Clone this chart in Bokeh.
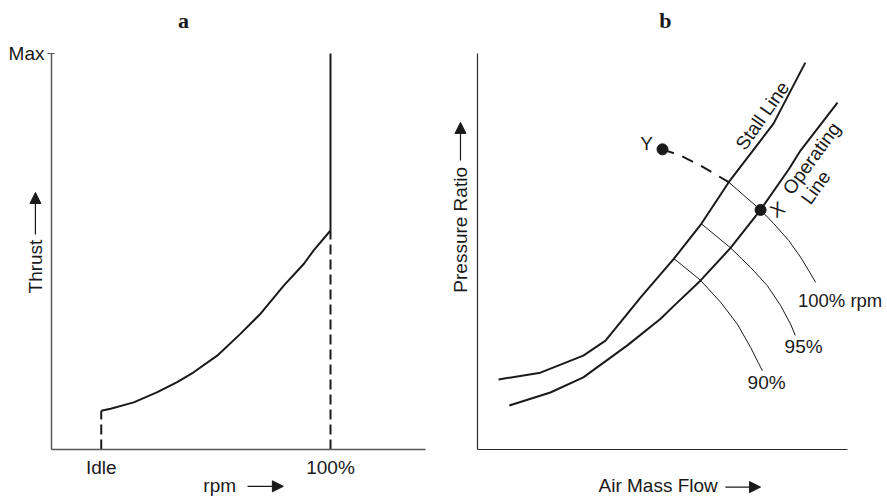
import math
from bokeh.plotting import figure
from bokeh.models import Range1d, FixedTicker, Label, Arrow, NormalHead
from bokeh.layouts import row
from bokeh.embed import file_html
from bokeh.resources import INLINE

FONT = "Liberation Sans"
FS = "19px"
INK = "#1a1a1a"

# ---------------- Panel a data (rpm vs thrust, arbitrary 0-100 units) ----------------
idle_rpm = 13.3
full_rpm = 74.6
thrust_max = 100
idle_thrust = 9.8
full_thrust = 55.3
rpm_curve = [13.3, 15.8, 22.0, 28.3, 33.6, 38.0, 44.3, 50.5, 55.9, 62.1, 67.5, 70.1, 74.6]
thrust_curve = [9.8, 10.3, 11.9, 14.5, 17.0, 19.5, 23.7, 29.2, 34.3, 41.4, 46.9, 50.3, 55.3]

# ---------------- Panel b data (air mass flow vs pressure ratio, 0-100 units) ----------------
stall_x = [5.7, 17.0, 28.6, 34.6, 44.1, 53.1, 60.5, 67.9, 80.0, 88.6]
stall_y = [17.7, 19.4, 23.7, 27.5, 38.4, 48.2, 57.0, 67.5, 82.3, 97.7]
oper_x = [8.6, 19.7, 28.6, 40.5, 49.5, 53.0, 60.3, 68.4, 76.5, 84.1, 87.3, 97.3]
oper_y = [11.1, 14.4, 18.2, 26.3, 33.0, 36.2, 42.7, 50.9, 60.5, 70.7, 75.5, 87.6]
rpm100_x = [67.9, 76.5, 80.1, 84.1, 87.3, 89.5, 91.4]
rpm100_y = [67.5, 60.5, 57.0, 52.8, 48.6, 45.2, 42.2]
rpm95_x = [60.5, 68.4, 73.8, 78.3, 81.9, 84.6, 85.9]
rpm95_y = [57.0, 50.9, 46.0, 41.4, 36.4, 31.7, 28.8]
rpm90_x = [53.1, 60.3, 65.7, 70.2, 73.8, 76.5, 77.0]
rpm90_y = [48.2, 42.7, 37.2, 31.7, 25.8, 20.8, 19.9]
surge_x = [50.0, 54.9, 60.3, 67.9]
surge_y = [75.8, 74.2, 71.7, 67.5]
point_x = [76.5, 50.0]
point_y = [60.5, 75.8]
point_names = ["X", "Y"]

# ---------------- layout geometry (pixels) ----------------
H = 497
A_W, B_W = 440, 447
A_LEFT, A_PX = 51, 3.74      # panel a: frame origin x and px per unit
B_LEFT, B_PX = 37, 3.70      # panel b (inside its own figure)
BOTTOM, Y_PX = 48, 3.96      # distance of the x axis from the bottom, px per unit


def make_fig(width, left, pxx):
    p = figure(width=width, height=H,
               x_range=Range1d(-left / pxx, (width - left) / pxx),
               y_range=Range1d(-BOTTOM / Y_PX, (H - BOTTOM) / Y_PX),
               output_backend="svg", toolbar_location=None,
               min_border=0, min_border_left=0, min_border_right=0,
               min_border_top=0, min_border_bottom=0)
    p.outline_line_color = None
    p.xgrid.visible = False
    p.ygrid.visible = False
    p.background_fill_color = "white"
    p.border_fill_color = "white"
    return p


def style_axes(p, color, width):
    for ax in (p.xaxis[0], p.yaxis[0]):
        ax.fixed_location = 0
        ax.bounds = (0, 100)
        ax.axis_line_color = color
        ax.axis_line_width = width
        ax.minor_tick_line_color = None
        ax.major_tick_in = 0
        ax.major_tick_out = 0
        ax.major_label_text_font = FONT
        ax.major_label_text_font_size = FS
        ax.major_label_text_color = INK


def lab(p, text, x, y, align="left", angle=0.0, size=FS, font=FONT, style="normal"):
    p.add_layout(Label(x=x, y=y, text=text,
                       text_align=align, text_baseline="middle", angle=angle,
                       text_font=font, text_font_size=size, text_font_style=style,
                       text_color=INK))


def arrow(p, x0, y0, x1, y1):
    p.add_layout(Arrow(end=NormalHead(size=11, fill_color=INK, line_color=INK, line_width=1),
                       x_start=x0, y_start=y0, x_end=x1, y_end=y1,
                       line_color=INK, line_width=1.2))


# ================= Panel a =================
pa = make_fig(A_W, A_LEFT, A_PX)
style_axes(pa, "#5a5a5a", 1.5)
pa.xaxis.ticker = FixedTicker(ticks=[idle_rpm, full_rpm])
pa.xaxis.major_label_overrides = {idle_rpm: "Idle", full_rpm: "100%"}
pa.xaxis.major_label_standoff = 7
pa.yaxis.ticker = FixedTicker(ticks=[thrust_max])
pa.yaxis.major_label_overrides = {thrust_max: "Max"}
pa.yaxis.major_tick_in = 3
pa.yaxis.major_tick_out = 4
pa.yaxis.major_tick_line_color = "#5a5a5a"
pa.yaxis.major_label_standoff = 3

pa.line(rpm_curve, thrust_curve, line_color=INK, line_width=2)
pa.line([full_rpm, full_rpm], [full_thrust, thrust_max], line_color=INK, line_width=2)
pa.line([full_rpm, full_rpm], [0, full_thrust], line_color=INK, line_width=2, line_dash="10 5")
pa.line([idle_rpm, idle_rpm], [0, idle_thrust], line_color=INK, line_width=2, line_dash="10 5")

lab(pa, "a", 35.3, 108.3, align="center", size="22px", font="Liberation Serif", style="bold")
lab(pa, "Thrust", -4.3, 39.4, align="left", angle=math.pi / 2)
arrow(pa, -4.3, 54.3, -4.3, 64.9)
lab(pa, "rpm", 40.6, -9.1)
arrow(pa, 52.4, -9.3, 62.0, -9.3)

# ================= Panel b =================
pb = make_fig(B_W, B_LEFT, B_PX)
style_axes(pb, "#2a2a2a", 1.2)
pb.xaxis.ticker = FixedTicker(ticks=[])
pb.yaxis.ticker = FixedTicker(ticks=[])

pb.line(stall_x, stall_y, line_color=INK, line_width=2)
pb.line(oper_x, oper_y, line_color=INK, line_width=2)
for xs, ys in ((rpm100_x, rpm100_y), (rpm95_x, rpm95_y), (rpm90_x, rpm90_y)):
    pb.line(xs, ys, line_color=INK, line_width=1)
pb.line(surge_x, surge_y, line_color=INK, line_width=2, line_dash="12 9")
pb.scatter(point_x, point_y, size=11, color=INK)

lab(pb, "b", 50.8, 108.3, align="center", size="22px", font="Liberation Serif", style="bold")
lab(pb, "Pressure Ratio", -4.6, 39.6, align="left", angle=math.pi / 2)
arrow(pb, -4.6, 73.0, -4.6, 82.6)
lab(pb, "Air Mass Flow", 32.7, -9.1)
arrow(pb, 67.0, -9.5, 76.5, -9.5)

lab(pb, point_names[1], 45.7, 77.3, align="center")
lab(pb, point_names[0], 81.1, 60.6, align="center", angle=math.radians(35))
lab(pb, "Stall Line", 77.0, 84.3, align="center", angle=math.radians(55))
lab(pb, "Operating", 90.3, 73.5, align="center", angle=math.radians(54))
lab(pb, "Line", 91.4, 66.2, align="center", angle=math.radians(54))
lab(pb, "100% rpm", 86.6, 37.6, size="18.5px")
lab(pb, "95%", 83.0, 25.9)
lab(pb, "90%", 73.0, 17.0)

layout = row(pa, pb)
open("out.html", "w").write(file_html(layout, INLINE))
